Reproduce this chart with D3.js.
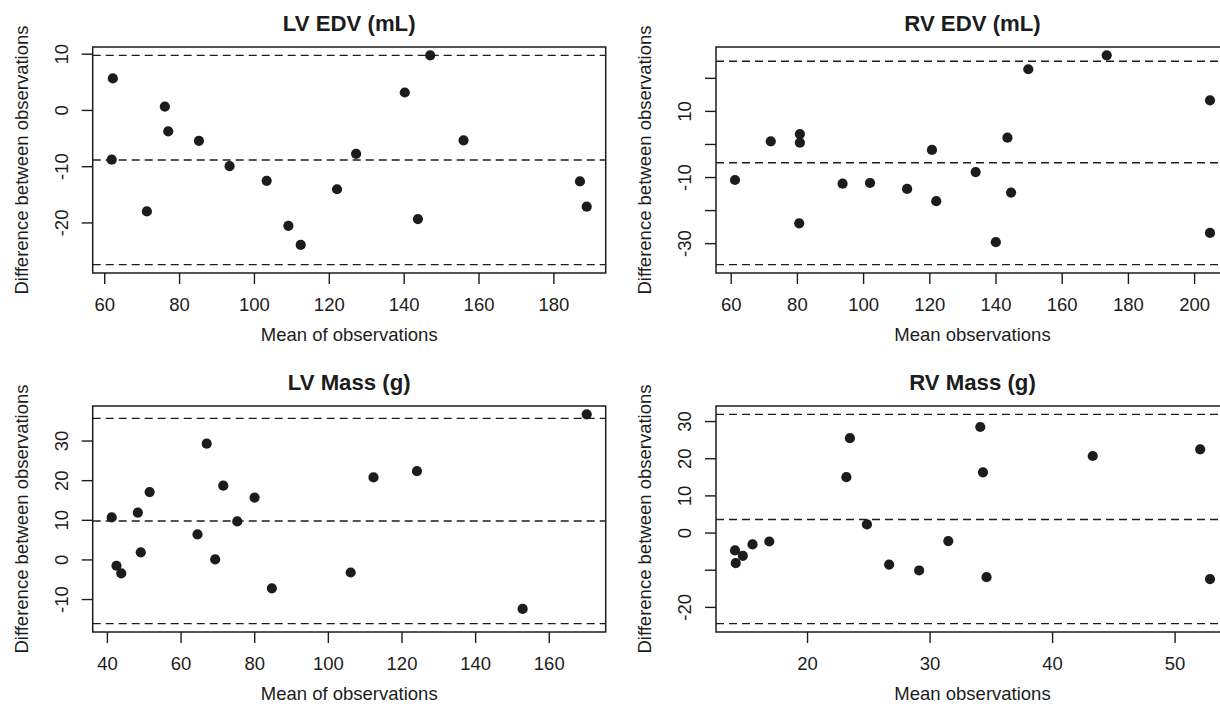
<!DOCTYPE html>
<html>
<head>
<meta charset="utf-8">
<script src="https://cdn.jsdelivr.net/npm/d3@7"></script>
<style>
body { margin: 0; background: #fff; }
svg { display: block; font-family: "Liberation Sans", Arial, Helvetica, sans-serif; }
</style>
</head>
<body>
<script>
// LV EDV (mL)
const lvEdvMean = [62.3, 62.0, 71.4, 76.2, 77.1, 85.3, 93.5, 103.4, 109.2, 112.5, 122.2, 127.3, 140.3, 143.8, 147.1, 156.0, 187.1, 188.9];
const lvEdvDiff = [5.6, -8.85, -18.05, 0.6, -3.8, -5.5, -10.0, -12.6, -20.6, -24.0, -14.1, -7.8, 3.1, -19.4, 9.7, -5.4, -12.7, -17.2];
const lvEdvLimits = [9.7, -8.9, -27.5];
const lvEdvXTicks = [60, 80, 100, 120, 140, 160, 180];
const lvEdvYTicks = [-20, -10, 0, 10];
const lvEdvYLabels = [-20, -10, 0, 10];

// RV EDV (mL)
const rvEdvMean = [61.3, 72.1, 80.9, 80.9, 80.7, 93.8, 102.1, 113.3, 120.8, 122.1, 134.0, 140.1, 143.6, 144.7, 149.9, 173.6, 204.8, 204.8];
const rvEdvDiff = [-10.9, 0.8, 3.0, 0.4, -24.0, -12.0, -11.8, -13.6, -1.8, -17.3, -8.5, -29.7, 1.9, -14.7, 22.6, 26.8, 13.2, -26.9];
const rvEdvLimits = [25.0, -5.7, -36.5];
const rvEdvXTicks = [60, 80, 100, 120, 140, 160, 180, 200];
const rvEdvYTicks = [-30, -20, -10, 0, 10, 20];
const rvEdvYLabels = [-30, -10, 10];

// LV Mass (g)
const lvMassMean = [41.3, 42.6, 43.9, 48.4, 49.2, 51.6, 64.6, 67.1, 69.4, 71.6, 75.4, 80.1, 84.8, 106.2, 112.4, 124.2, 152.9, 170.3];
const lvMassDiff = [10.6, -1.6, -3.5, 11.8, 1.8, 17.0, 6.3, 29.2, 0.0, 18.6, 9.6, 15.6, -7.3, -3.3, 20.7, 22.3, -12.5, 36.6];
const lvMassLimits = [35.6, 9.7, -16.2];
const lvMassXTicks = [40, 60, 80, 100, 120, 140, 160];
const lvMassYTicks = [-10, 0, 10, 20, 30];
const lvMassYLabels = [-10, 0, 10, 20, 30];

// RV Mass (g)
const rvMassMean = [14.12, 14.18, 14.76, 15.55, 16.92, 23.21, 23.5, 24.89, 26.7, 29.15, 31.53, 34.14, 34.36, 34.65, 43.32, 52.09, 52.89];
const rvMassDiff = [-4.8, -8.2, -6.25, -3.2, -2.4, 14.9, 25.4, 2.2, -8.6, -10.2, -2.3, 28.4, 16.2, -12.0, 20.6, 22.4, -12.5];
const rvMassLimits = [31.8, 3.5, -24.5];
const rvMassXTicks = [20, 30, 40, 50];
const rvMassYTicks = [-20, -10, 0, 10, 20, 30];
const rvMassYLabels = [-20, 0, 10, 20, 30];

const W = 1220, H = 710;
const boxW = 513, boxH = 226;
const fontSize = 18.5;
const ink = '#1c1c1c';

const panels = [
    { title: 'LV EDV (mL)', xlab: 'Mean of observations', mean: lvEdvMean, diff: lvEdvDiff, limits: lvEdvLimits,
      xTicks: lvEdvXTicks, yTicks: lvEdvYTicks, yLabels: lvEdvYLabels, left: 92.7, top: 47 },
    { title: 'RV EDV (mL)', xlab: 'Mean observations', mean: rvEdvMean, diff: rvEdvDiff, limits: rvEdvLimits,
      xTicks: rvEdvXTicks, yTicks: rvEdvYTicks, yLabels: rvEdvYLabels, left: 716, top: 47 },
    { title: 'LV Mass (g)', xlab: 'Mean of observations', mean: lvMassMean, diff: lvMassDiff, limits: lvMassLimits,
      xTicks: lvMassXTicks, yTicks: lvMassYTicks, yLabels: lvMassYLabels, left: 92.7, top: 406 },
    { title: 'RV Mass (g)', xlab: 'Mean observations', mean: rvMassMean, diff: rvMassDiff, limits: rvMassLimits,
      xTicks: rvMassXTicks, yTicks: rvMassYTicks, yLabels: rvMassYLabels, left: 716, top: 406 }
];

// R-style 4% range extension
function pad(ext) {
    const d = (ext[1] - ext[0]) * 0.04;
    return [ext[0] - d, ext[1] + d];
}

const svg = d3.select('body').append('svg')
    .attr('width', W)
    .attr('height', H);

panels.forEach((p) => {
    const x = d3.scaleLinear().domain(pad(d3.extent(p.mean))).range([0, boxW]);
    const y = d3.scaleLinear().domain(pad(d3.extent(p.diff.concat(p.limits)))).range([boxH, 0]);

    const g = svg.append('g').attr('transform', `translate(${p.left},${p.top})`);

    /* mean and limits of agreement */
    g.selectAll('.loa')
        .data(p.limits)
        .join('line')
        .attr('class', 'loa')
        .attr('x1', 0)
        .attr('x2', boxW)
        .attr('y1', d => y(d))
        .attr('y2', d => y(d))
        .attr('stroke', ink)
        .attr('stroke-width', 1.4)
        .attr('stroke-dasharray', '8,5');

    /* points */
    g.selectAll('.pt')
        .data(p.mean.map((m, i) => [m, p.diff[i]]))
        .join('circle')
        .attr('class', 'pt')
        .attr('cx', d => x(d[0]))
        .attr('cy', d => y(d[1]))
        .attr('r', 5.1)
        .attr('fill', ink);

    /* plot box */
    g.append('rect')
        .attr('width', boxW)
        .attr('height', boxH)
        .attr('fill', 'none')
        .attr('stroke', ink)
        .attr('stroke-width', 1.5);

    /* x axis */
    const xAxis = g.append('g')
        .attr('transform', `translate(0,${boxH})`)
        .call(d3.axisBottom(x).tickValues(p.xTicks).tickSize(11).tickSizeOuter(0)
            .tickPadding(13.5).tickFormat(d => String(d)));
    xAxis.select('.domain').remove();
    xAxis.selectAll('line').attr('stroke', ink).attr('stroke-width', 1.4);
    xAxis.selectAll('text').attr('fill', ink).attr('font-size', fontSize);

    /* y axis, labels rotated like R's las = 0 */
    const yAxis = g.append('g')
        .call(d3.axisLeft(y).tickValues(p.yTicks).tickSize(11).tickSizeOuter(0)
            .tickFormat(d => p.yLabels.includes(d) ? String(d) : ''));
    yAxis.select('.domain').remove();
    yAxis.selectAll('line').attr('stroke', ink).attr('stroke-width', 1.4);
    yAxis.selectAll('text')
        .attr('fill', ink)
        .attr('font-size', fontSize)
        .attr('x', null)
        .attr('text-anchor', 'middle')
        .attr('dy', '0.35em')
        .attr('transform', 'translate(-31,0) rotate(-90)');

    /* titles */
    g.append('text')
        .attr('x', boxW / 2)
        .attr('y', -16)
        .attr('text-anchor', 'middle')
        .attr('font-size', 22.2)
        .attr('font-weight', 'bold')
        .attr('fill', ink)
        .text(p.title);

    g.append('text')
        .attr('x', boxW / 2)
        .attr('y', boxH + 68)
        .attr('text-anchor', 'middle')
        .attr('font-size', fontSize)
        .attr('fill', ink)
        .text(p.xlab);

    g.append('text')
        .attr('transform', `translate(-71,${boxH / 2}) rotate(-90)`)
        .attr('text-anchor', 'middle')
        .attr('dy', '0.35em')
        .attr('font-size', fontSize)
        .attr('fill', ink)
        .text('Difference between observations');
});
</script>
</body>
</html>
